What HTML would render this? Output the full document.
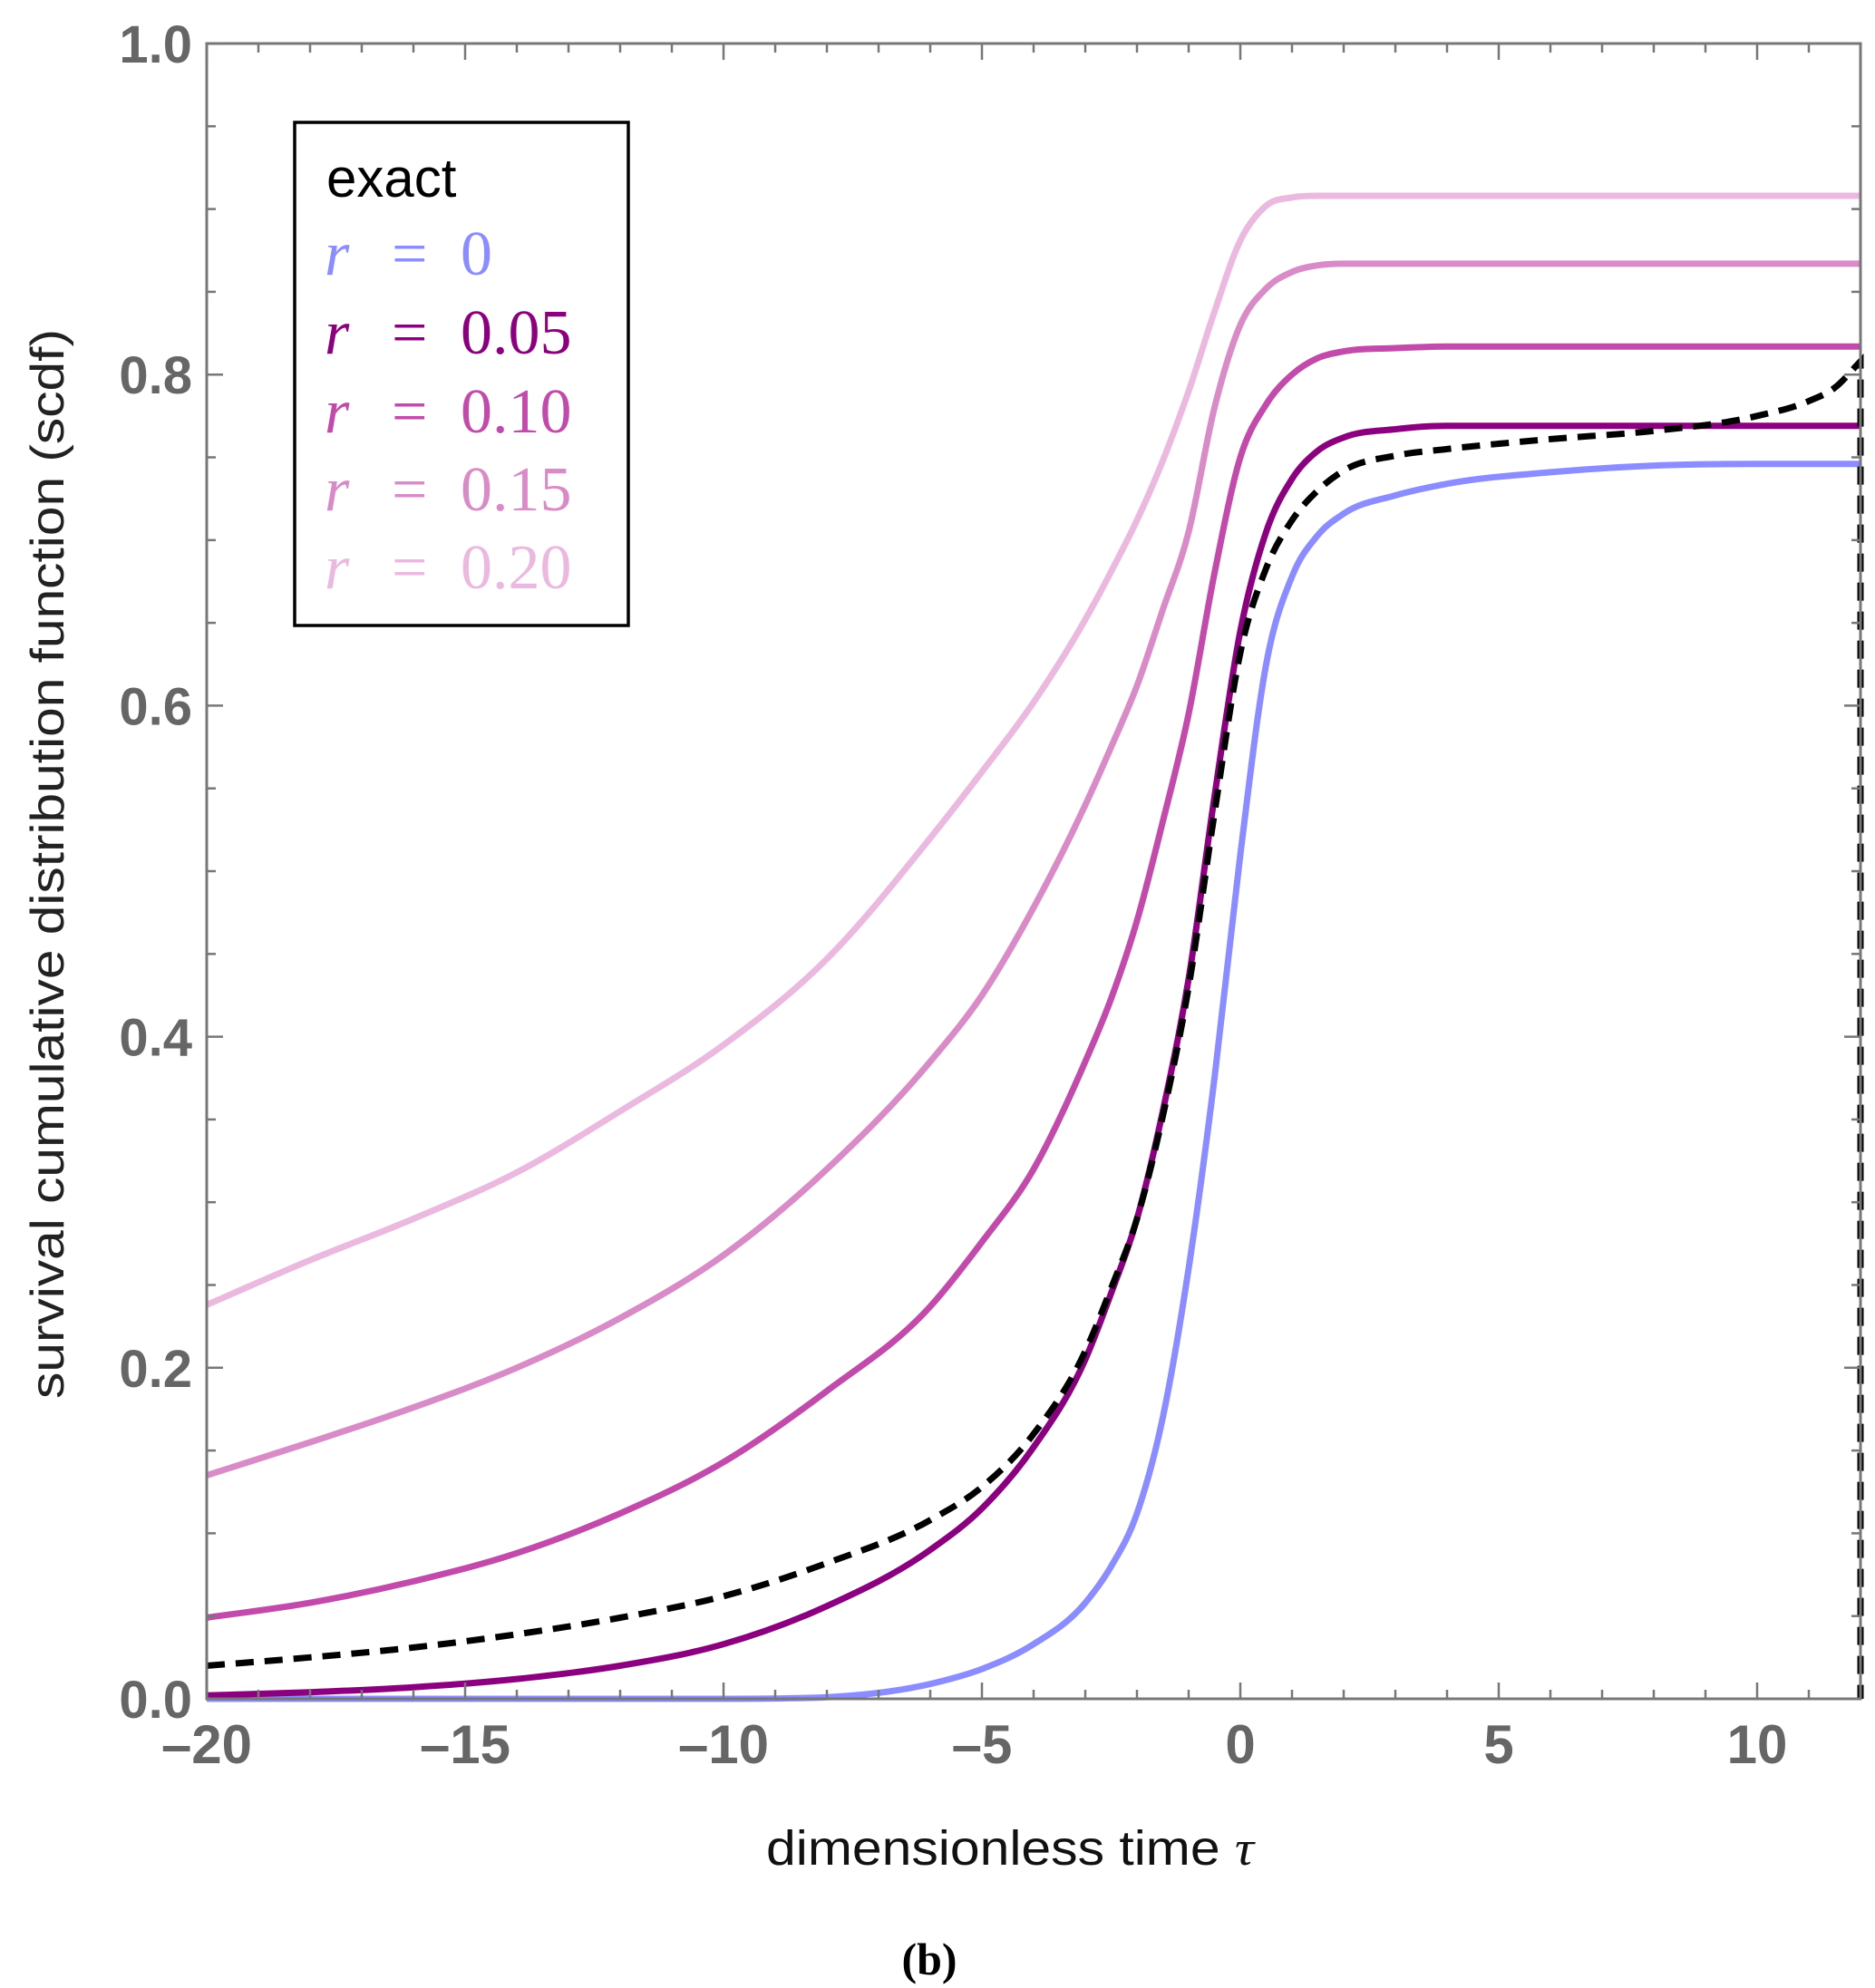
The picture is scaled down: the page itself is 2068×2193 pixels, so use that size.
<!DOCTYPE html>
<html><head><meta charset="utf-8"><style>
html,body{margin:0;padding:0;background:#fff;}
svg{display:block;}
</style></head><body>
<svg id="chart" width="2068" height="2193" viewBox="0 0 2068 2193" xmlns="http://www.w3.org/2000/svg">
<rect x="0" y="0" width="2068" height="2193" fill="#fff"/>
<g id="plot"></g>
<g id="axes"></g>
<g id="legend">
  <rect x="325" y="135" width="368" height="555" fill="#fff" stroke="#000" stroke-width="3.5"/>
  <text x="360" y="217" font-family="'Liberation Sans', sans-serif" font-size="60" fill="#000">exact</text>
  <g font-family="'Liberation Serif', serif" font-size="70">
    <text x="358" y="303" fill="#8a8cff"><tspan font-style="italic">r</tspan><tspan x="432">=</tspan><tspan x="508">0</tspan></text>
    <text x="358" y="390" fill="#8b007f"><tspan font-style="italic">r</tspan><tspan x="432">=</tspan><tspan x="508">0.05</tspan></text>
    <text x="358" y="477" fill="#c14aaa"><tspan font-style="italic">r</tspan><tspan x="432">=</tspan><tspan x="508">0.10</tspan></text>
    <text x="358" y="563" fill="#d98bc8"><tspan font-style="italic">r</tspan><tspan x="432">=</tspan><tspan x="508">0.15</tspan></text>
    <text x="358" y="649" fill="#ebb8e0"><tspan font-style="italic">r</tspan><tspan x="432">=</tspan><tspan x="508">0.20</tspan></text>
  </g>
</g>
<text x="70" y="953" transform="rotate(-90 70 953)" text-anchor="middle" textLength="1180" lengthAdjust="spacingAndGlyphs" font-family="'Liberation Sans', sans-serif" font-size="52" fill="#222">survival cumulative distribution function (scdf)</text>
<text x="1114" y="2057" text-anchor="middle" textLength="538" lengthAdjust="spacingAndGlyphs" font-family="'Liberation Sans', sans-serif" font-size="54" fill="#111">dimensionless time <tspan font-family="'Liberation Serif', serif" font-style="italic">τ</tspan></text>
<text x="1025" y="2178" text-anchor="middle" font-family="'Liberation Serif', serif" font-weight="bold" font-size="50" fill="#000">(b)</text>
</svg>
<script>
const tau   = [-20,-18,-16,-14,-12,-10,-8,-6,-5,-4,-3,-2.5,-2,-1.5,-1,-0.5,0,0.5,1,1.5,2,3,4,6,8,10,11,11.5,12];
const r0    = [0,0,0,0,0,0,0.001,0.009,0.018,0.033,0.058,0.08,0.112,0.17,0.26,0.375,0.51,0.625,0.678,0.703,0.716,0.727,0.734,0.741,0.745,0.746,0.746,0.746,0.746];
const r005  = [0.002,0.004,0.007,0.012,0.02,0.033,0.056,0.09,0.115,0.152,0.205,0.245,0.29,0.355,0.435,0.545,0.645,0.705,0.737,0.754,0.762,0.767,0.769,0.769,0.769,0.769,0.769,0.769,0.769];
const r010  = [0.049,0.058,0.071,0.088,0.112,0.143,0.186,0.237,0.276,0.32,0.385,0.423,0.47,0.53,0.595,0.68,0.75,0.782,0.80,0.81,0.814,0.816,0.817,0.817,0.817,0.817,0.817,0.817,0.817];
const r015  = [0.135,0.155,0.176,0.2,0.23,0.268,0.32,0.385,0.425,0.478,0.54,0.575,0.612,0.658,0.705,0.78,0.83,0.852,0.862,0.866,0.867,0.867,0.867,0.867,0.867,0.867,0.867,0.867,0.867];
const r020  = [0.238,0.265,0.29,0.318,0.355,0.395,0.447,0.52,0.56,0.602,0.652,0.681,0.712,0.748,0.79,0.838,0.881,0.902,0.907,0.908,0.908,0.908,0.908,0.908,0.908,0.908,0.908,0.908,0.908];
const exact = [0.020,0.025,0.031,0.039,0.049,0.062,0.082,0.108,0.128,0.16,0.21,0.248,0.29,0.352,0.43,0.535,0.632,0.683,0.712,0.73,0.742,0.751,0.755,0.761,0.766,0.775,0.784,0.792,0.808];
const xTicks = [-20,-15,-10,-5,0,5,10];
const xTickLabels = ["\u201320","\u201315","\u201310","\u20135","0","5","10"];
const yTicks = [0,0.2,0.4,0.6,0.8,1.0];
const yTickLabels = ["0.0","0.2","0.4","0.6","0.8","1.0"];

const L=228,R=2052,T=48,B=1874,X0=-20,X1=12;
function sx(v){return L+(v-X0)/(X1-X0)*(R-L);}
function sy(v){return B-v*(B-T);}
const NS="http://www.w3.org/2000/svg";
function mk(tag,attrs,parent){const e=document.createElementNS(NS,tag);for(const k in attrs)e.setAttribute(k,attrs[k]);parent.appendChild(e);return e;}

function monotone(xs,ys){
  const n=xs.length,d=[],m=new Array(n);
  for(let i=0;i<n-1;i++)d.push((ys[i+1]-ys[i])/(xs[i+1]-xs[i]));
  m[0]=d[0];m[n-1]=d[n-2];
  for(let i=1;i<n-1;i++){
    if(d[i-1]*d[i]<=0){m[i]=0;continue;}
    const h0=xs[i]-xs[i-1],h1=xs[i+1]-xs[i];
    m[i]=(d[i-1]*h1+d[i]*h0)/(h0+h1);
  }
  for(let i=0;i<n-1;i++){
    if(d[i]===0){m[i]=0;m[i+1]=0;continue;}
    const a=m[i]/d[i],b=m[i+1]/d[i],s=a*a+b*b;
    if(s>9){const t=3/Math.sqrt(s);m[i]=t*a*d[i];m[i+1]=t*b*d[i];}
  }
  let p="";
  for(let i=0;i<n-1;i++){
    const h=xs[i+1]-xs[i];
    const x0=sx(xs[i]),y0=sy(ys[i]),x3=sx(xs[i+1]),y3=sy(ys[i+1]);
    const c1x=sx(xs[i]+h/3),c1y=sy(ys[i]+m[i]*h/3);
    const c2x=sx(xs[i+1]-h/3),c2y=sy(ys[i+1]-m[i+1]*h/3);
    if(i===0)p+="M"+x0.toFixed(1)+","+y0.toFixed(1);
    p+="C"+c1x.toFixed(1)+","+c1y.toFixed(1)+" "+c2x.toFixed(1)+","+c2y.toFixed(1)+" "+x3.toFixed(1)+","+y3.toFixed(1);
  }
  return p;
}

const plot=document.getElementById('plot');
const series=[
  {d:r020,c:"#ebb8e0",w:7,n:"line-r-0-20"},
  {d:r015,c:"#d98bc8",w:7,n:"line-r-0-15"},
  {d:r010,c:"#c14aaa",w:7,n:"line-r-0-10"},
  {d:r0,c:"#8a8cff",w:7,n:"line-r-0"},
  {d:r005,c:"#8b007f",w:7,n:"line-r-0-05"}
];
series.forEach(s=>{
  const p=mk('path',{d:monotone(tau,s.d),fill:"none",stroke:s.c,"stroke-width":s.w,"stroke-linejoin":"round"},plot);
  
  
});
const ex=mk('path',{d:monotone(tau,exact)+"L"+sx(tau[tau.length-1]).toFixed(1)+","+sy(0).toFixed(1),fill:"none",stroke:"#000","stroke-width":7,"stroke-dasharray":"20 12"},plot);



const axes=document.getElementById('axes');
const frame=mk('rect',{x:L,y:T,width:R-L,height:B-T,fill:"none",stroke:"#777","stroke-width":3},axes);


for(let v=X0;v<=X1;v++){
  const major=(v%5===0), len=major?18:10, x=sx(v);
  mk('line',{x1:x,y1:B,x2:x,y2:B-len,stroke:"#777","stroke-width":2.5},axes);
  mk('line',{x1:x,y1:T,x2:x,y2:T+len,stroke:"#777","stroke-width":2.5},axes);
}
for(let i=0;i<=20;i++){
  const v=i*0.05, major=(i%4===0), len=major?18:10, y=sy(v);
  mk('line',{x1:L,y1:y,x2:L+len,y2:y,stroke:"#777","stroke-width":2.5},axes);
  mk('line',{x1:R,y1:y,x2:R-len,y2:y,stroke:"#777","stroke-width":2.5},axes);
}
xTicks.forEach((v,i)=>{
  const t=mk('text',{x:sx(v),y:1945,"text-anchor":"middle","font-family":"'Liberation Sans', sans-serif","font-weight":"bold","font-size":60,fill:"#666"},axes);
  t.textContent=xTickLabels[i];
  
  
});
yTicks.forEach((v,i)=>{
  const t=mk('text',{x:212,y:sy(v)+21,"text-anchor":"end","font-family":"'Liberation Sans', sans-serif","font-weight":"bold","font-size":58,fill:"#666"},axes);
  t.textContent=yTickLabels[i];
  
  
});
</script>
</body></html>
